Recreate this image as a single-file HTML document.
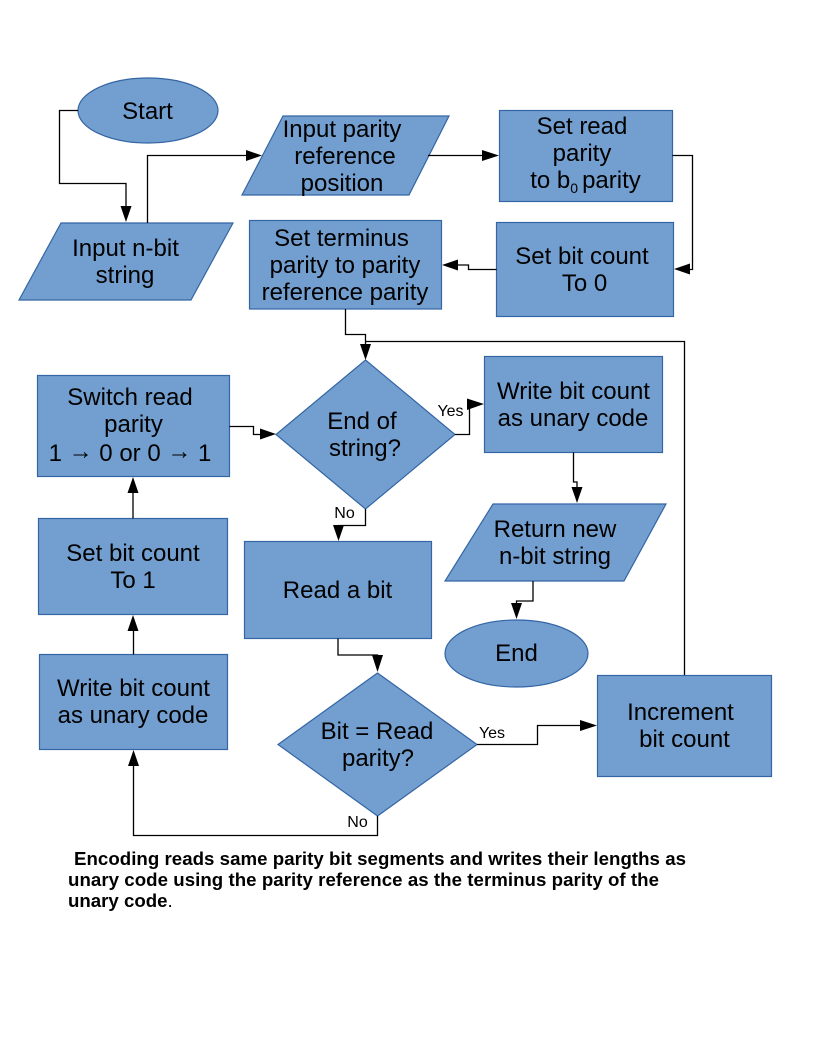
<!DOCTYPE html>
<html><head><meta charset="utf-8"><style>
html,body{margin:0;padding:0;background:#fff}
svg{display:block}
text{font-family:"Liberation Sans",sans-serif;font-size:24px;fill:#000;text-anchor:middle}
.s{fill:#729fcf;stroke:#3465a4;stroke-width:1.2}
.c{fill:none;stroke:#000;stroke-width:1.3}
.l{font-size:16px}
.b{font-size:18.67px;font-weight:bold;text-anchor:start}
.a{font-family:"Liberation Serif",serif}
</style></head><body>
<svg width="816" height="1056" viewBox="0 0 816 1056" xmlns="http://www.w3.org/2000/svg">
<ellipse class="s" cx="148" cy="110.5" rx="70" ry="32.5"/>
<polygon class="s" points="283,116 449,116 409,195 242,195"/>
<polygon class="s" points="61,223 233,223 191,300 19,300"/>
<rect class="s" x="249.5" y="220.5" width="192" height="88.5"/>
<rect class="s" x="499.5" y="110.5" width="173" height="91"/>
<rect class="s" x="496.5" y="222.5" width="177" height="94"/>
<rect class="s" x="484.5" y="356.5" width="178" height="96"/>
<rect class="s" x="37.5" y="375.5" width="192" height="101"/>
<rect class="s" x="38.5" y="518.5" width="189" height="96"/>
<rect class="s" x="39.5" y="654.5" width="188" height="95"/>
<rect class="s" x="244.5" y="541.5" width="187" height="97"/>
<rect class="s" x="597.5" y="675.5" width="174" height="101"/>
<ellipse class="s" cx="516.5" cy="653.5" rx="71.5" ry="33.5"/>
<polygon class="s" points="365.5,360 455,434.5 365.5,509 276,434.5"/>
<polygon class="s" points="377.5,673 477,744.5 377.5,816 278,744.5"/>
<polygon class="s" points="493,504 666,504 624,581 445,581"/>

<path class="c" d="M78 110.5H59.5V183.5H126V207"/>
<path class="c" d="M147.5 223V155.5H247"/>
<path class="c" d="M428 155.5H483"/>
<path class="c" d="M672.5 155.5H692.5V269.5H689"/>
<path class="c" d="M496.5 269.5H468.5V265H457"/>
<path class="c" d="M345.5 309V334.5H365.5V345"/>
<path class="c" d="M684.5 675V341.5H365.5"/>
<path class="c" d="M229.5 426.5H253.5V434.5H261"/>
<path class="c" d="M455 434.5H469.5V404H470"/>
<path class="c" d="M365.5 509V525.5H338.5V527"/>
<path class="c" d="M338 638.5V655H377.5V657"/>
<path class="c" d="M477 744.5H537.5V725.5H581"/>
<path class="c" d="M377.5 816V835.5H133.5V765"/>
<path class="c" d="M133.5 654.5V630"/>
<path class="c" d="M133 518.5V493"/>
<path class="c" d="M573.5 452.5V482H577V488"/>
<path class="c" d="M533 581V601H516.5V604"/>

<g fill="#000">
<polygon points="126,222 120.5,206 131.500,206"/>
<polygon points="262,155.500 246,150 246,161"/>
<polygon points="499,155.500 482,150 482,161"/>
<polygon points="674,269 690,263.500 690,274.500"/>
<polygon points="442,265 458,259.500 458,270.500"/>
<polygon points="365.500,360 360,344 371,344"/>
<polygon points="276,434 260,428.500 260,439.500"/>
<polygon points="484,404 467,398.500 467,410"/>
<polygon points="338.500,541 333,525 344,525"/>
<polygon points="377.500,672 372,655 383,655"/>
<polygon points="597,725.500 580,720 580,731"/>
<polygon points="133.500,750 128,766 139,766"/>
<polygon points="133,615 127.500,631 138.500,631"/>
<polygon points="133,477 127.500,493 138.500,493"/>
<polygon points="577,503 571.500,487 582.500,487"/>
<polygon points="516.500,619 511,603 522,603"/>
</g>

<text x="147.500" y="119">Start</text>
<text x="342" y="137">Input parity</text>
<text x="345" y="164">reference</text>
<text x="342" y="191">position</text>
<text x="125.500" y="256">Input n-bit</text>
<text x="125" y="283">string</text>
<text x="582" y="134">Set read</text>
<text x="582" y="161">parity</text>
<text x="585.500" y="188">to b<tspan font-size="14" dy="5">0</tspan><tspan dy="-5" dx="4">parity</tspan></text>
<text x="582" y="264">Set bit count</text>
<text x="584.500" y="291">To 0</text>
<text x="341.500" y="246">Set terminus</text>
<text x="345" y="273">parity to parity</text>
<text x="345" y="300">reference parity</text>
<text x="573.500" y="399">Write bit count</text>
<text x="573" y="426">as unary code</text>
<text x="130" y="405">Switch read</text>
<text x="133.500" y="432">parity</text>
<text x="130" y="461">1 <tspan class="a" dy="-2">→</tspan><tspan dy="2"> 0 or 0 </tspan><tspan class="a" dy="-2">→</tspan><tspan dy="2"> 1</tspan></text>
<text x="362" y="429">End of</text>
<text x="365" y="456">string?</text>
<text x="555" y="537">Return new</text>
<text x="555" y="564">n-bit string</text>
<text x="133" y="561">Set bit count</text>
<text x="133" y="588">To 1</text>
<text x="337.500" y="598">Read a bit</text>
<text x="516.500" y="661">End</text>
<text x="133.500" y="696">Write bit count</text>
<text x="133" y="723">as unary code</text>
<text x="377" y="739">Bit = Read</text>
<text x="378" y="766">parity?</text>
<text x="680.500" y="720">Increment</text>
<text x="684.500" y="747">bit count</text>

<text class="l" x="450.500" y="416">Yes</text>
<text class="l" x="344.500" y="518">No</text>
<text class="l" x="492" y="738">Yes</text>
<text class="l" x="357.500" y="827">No</text>

<text class="b" x="74" y="865" textLength="612">Encoding reads same parity bit segments and writes their lengths as</text>
<text class="b" x="68" y="886" textLength="591">unary code using the parity reference as the terminus parity of the</text>
<text class="b" x="68" y="907">unary code<tspan font-weight="normal">.</tspan></text>
</svg>
</body></html>
